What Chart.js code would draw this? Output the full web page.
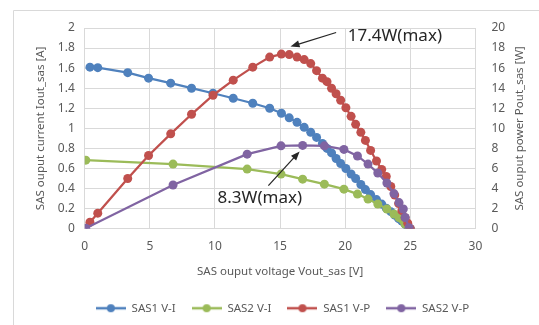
<!DOCTYPE html>
<html lang="en">
<head>
    <meta charset="UTF-8">
    <title>SAS output</title>
    <script src="https://cdn.jsdelivr.net/npm/chart.js"></script>
    <style>
        html, body {
            margin: 0;
            padding: 0;
            background: #fff;
            overflow: hidden;
        }
        .chart-box {
            width: 539px;
            height: 325px;
        }
    </style>
</head>
<body>
    <div class="chart-box">
        <canvas id="sasChart"></canvas>
    </div>

    <script>
        // SAS1 voltage [V], current [A], power [W]
        const sas1Volt = [0.4, 1.0, 3.3, 4.9, 6.6, 8.2, 9.85, 11.4, 12.9, 14.2, 15.1, 15.7, 16.3, 16.85, 17.35, 17.8,
            18.25, 18.6, 18.95, 19.3, 19.65, 20.05, 20.45, 20.8, 21.2, 21.55, 21.95, 22.4, 22.8, 23.15, 23.5,
            23.8, 24.1, 24.35, 24.6, 24.8, 25.0];
        const sas1Curr = [1.61, 1.605, 1.555, 1.50, 1.45, 1.40, 1.35, 1.30, 1.25, 1.20, 1.15, 1.105, 1.06, 1.01, 0.96, 0.91,
            0.85, 0.80, 0.755, 0.70, 0.65, 0.60, 0.545, 0.50, 0.44, 0.39, 0.34, 0.29, 0.245, 0.205, 0.17,
            0.135, 0.10, 0.075, 0.045, 0.02, 0];
        const sas1Pow = [0.64, 1.55, 5.0, 7.3, 9.45, 11.4, 13.3, 14.8, 16.1, 17.1, 17.4, 17.35, 17.1, 16.85, 16.45, 15.75,
            15.0, 14.65, 14.0, 13.45, 12.8, 12.05, 11.2, 10.4, 9.6, 8.8, 7.8, 6.75, 5.9, 5.2, 4.2,
            3.35, 2.5, 1.8, 1.1, 0.55, 0];

        // SAS2 voltage [V], current [A], power [W]
        const sas2Volt = [0.08, 6.78, 12.47, 15.07, 16.73, 18.4, 19.9, 20.94, 21.75, 22.5, 23.2, 23.74, 24.13, 24.46, 24.6, 24.9];
        const sas2Curr = [0.683, 0.644, 0.594, 0.544, 0.494, 0.444, 0.394, 0.345, 0.295, 0.245, 0.196, 0.146, 0.11, 0.08, 0.045, 0.005];
        const sas2Pow = [0.05, 4.35, 7.43, 8.26, 8.3, 8.26, 7.9, 7.25, 6.44, 5.55, 4.55, 3.5, 2.6, 1.96, 1.12, 0.1];

        const seriesNames = ['SAS1 V-I', 'SAS2 V-I', 'SAS1 V-P', 'SAS2 V-P'];
        const seriesColors = ['#4F81BD', '#9BBB59', '#C0504D', '#8064A2'];

        // annotation anchors in [V, W]
        const maxLabels = ['17.4W(max)', '8.3W(max)'];
        const labelPos = [[20.2, 19.2], [10.2, 3.0]];
        const arrowFrom = [[19.3, 19.55], [14.1, 4.3]];
        const arrowTo = [[15.8, 18.15], [16.5, 7.7]];

        const rightTitle = 'SAS ouput power Pout_sas [W]';
        const textGrey = '#595959';
        const gridGrey = '#d9d9d9';
        const fontFam = "'Noto Sans', sans-serif";

        function toPoints(xs, ys) {
            return xs.map((x, i) => ({ x: x, y: ys[i] }));
        }

        function legendIcon(color) {
            const c = document.createElement('canvas');
            c.width = 30;
            c.height = 10;
            const g = c.getContext('2d');
            g.strokeStyle = color;
            g.lineWidth = 2.5;
            g.beginPath();
            g.moveTo(0, 5);
            g.lineTo(30, 5);
            g.stroke();
            g.fillStyle = color;
            g.beginPath();
            g.arc(15, 5, 4, 0, Math.PI * 2);
            g.fill();
            return c;
        }

        function makeSet(i, pts, axis, order) {
            return {
                label: seriesNames[i],
                data: pts,
                yAxisID: axis,
                showLine: true,
                borderColor: seriesColors[i],
                backgroundColor: seriesColors[i],
                borderWidth: 2.25,
                pointRadius: 4.5,
                pointBorderWidth: 0,
                tension: 0,
                order: order
            };
        }

        const frame = {
            id: 'frame',
            beforeDraw(chart) {
                const ctx = chart.ctx;
                ctx.save();
                ctx.strokeStyle = gridGrey;
                ctx.lineWidth = 1;
                ctx.beginPath();
                ctx.moveTo(13.5, 325);
                ctx.lineTo(13.5, 10.5);
                ctx.lineTo(539, 10.5);
                ctx.stroke();
                ctx.restore();
            }
        };

        const maxNotes = {
            id: 'maxNotes',
            afterDatasetsDraw(chart) {
                const ctx = chart.ctx;
                const sx = chart.scales.x;
                const sy = chart.scales.y1;
                const area = chart.chartArea;
                ctx.save();
                // right axis title, read bottom to top
                ctx.fillStyle = textGrey;
                ctx.font = '11.5px ' + fontFam;
                ctx.textAlign = 'center';
                ctx.textBaseline = 'middle';
                ctx.translate(520, (area.top + area.bottom) / 2);
                ctx.rotate(-Math.PI / 2);
                ctx.fillText(rightTitle, 0, 0);
                ctx.restore();

                ctx.save();
                ctx.fillStyle = '#262626';
                ctx.strokeStyle = '#262626';
                ctx.font = '17px ' + fontFam;
                ctx.textBaseline = 'middle';
                maxLabels.forEach((txt, i) => {
                    ctx.fillText(txt, sx.getPixelForValue(labelPos[i][0]), sy.getPixelForValue(labelPos[i][1]));
                    const x0 = sx.getPixelForValue(arrowFrom[i][0]);
                    const y0 = sy.getPixelForValue(arrowFrom[i][1]);
                    const x1 = sx.getPixelForValue(arrowTo[i][0]);
                    const y1 = sy.getPixelForValue(arrowTo[i][1]);
                    const a = Math.atan2(y1 - y0, x1 - x0);
                    ctx.lineWidth = 1.25;
                    ctx.beginPath();
                    ctx.moveTo(x0, y0);
                    ctx.lineTo(x1 - 6 * Math.cos(a), y1 - 6 * Math.sin(a));
                    ctx.stroke();
                    ctx.beginPath();
                    ctx.moveTo(x1, y1);
                    ctx.lineTo(x1 - 9 * Math.cos(a) + 3.5 * Math.sin(a), y1 - 9 * Math.sin(a) - 3.5 * Math.cos(a));
                    ctx.lineTo(x1 - 9 * Math.cos(a) - 3.5 * Math.sin(a), y1 - 9 * Math.sin(a) + 3.5 * Math.cos(a));
                    ctx.closePath();
                    ctx.fill();
                });
                ctx.restore();
            }
        };

        const ctx = document.getElementById('sasChart').getContext('2d');
        const sasChart = new Chart(ctx, {
            type: 'scatter',
            data: {
                datasets: [
                    makeSet(0, toPoints(sas1Volt, sas1Curr), 'y', 3),
                    makeSet(1, toPoints(sas2Volt, sas2Curr), 'y', 2),
                    makeSet(2, toPoints(sas1Volt, sas1Pow), 'y1', 1),
                    makeSet(3, toPoints(sas2Volt, sas2Pow), 'y1', 0)
                ]
            },
            options: {
                responsive: true,
                maintainAspectRatio: false,
                animation: false,
                layout: {
                    padding: { left: 34, right: 8, top: 28, bottom: 1 }
                },
                scales: {
                    x: {
                        type: 'linear',
                        min: 0,
                        max: 30,
                        ticks: { stepSize: 5, color: textGrey, font: { family: fontFam, size: 12, lineHeight: 1 }, padding: 12 },
                        grid: { color: gridGrey, drawTicks: false },
                        border: { display: false },
                        title: {
                            display: true,
                            text: 'SAS ouput voltage Vout_sas [V]',
                            color: textGrey,
                            font: { family: fontFam, size: 11.5 },
                            padding: { top: 0, bottom: 8 }
                        }
                    },
                    y: {
                        position: 'left',
                        min: 0,
                        max: 2,
                        ticks: {
                            stepSize: 0.2,
                            color: textGrey,
                            font: { family: fontFam, size: 12 },
                            padding: 10,
                            callback: v => String(Math.round(v * 10) / 10)
                        },
                        grid: { color: gridGrey, drawTicks: false },
                        border: { display: false },
                        title: {
                            display: true,
                            text: 'SAS ouput current Iout_sas [A]',
                            color: textGrey,
                            font: { family: fontFam, size: 11.5 },
                            padding: { top: 0, bottom: 0 }
                        }
                    },
                    y1: {
                        position: 'right',
                        min: 0,
                        max: 20,
                        ticks: { stepSize: 2, color: textGrey, font: { family: fontFam, size: 12 }, padding: 8 },
                        grid: { display: false },
                        border: { display: false },
                        title: {
                            display: true,
                            text: rightTitle,
                            color: 'rgba(0,0,0,0)',
                            font: { family: fontFam, size: 11.5 },
                            padding: { top: 4, bottom: 0 }
                        }
                    }
                },
                plugins: {
                    tooltip: { enabled: false },
                    legend: {
                        position: 'bottom',
                        labels: {
                            usePointStyle: true,
                            pointStyleWidth: 30,
                            boxHeight: 10,
                            padding: 16,
                            color: textGrey,
                            font: { family: fontFam, size: 11.5 },
                            generateLabels: chart => chart.data.datasets.map((ds, i) => ({
                                text: ds.label,
                                pointStyle: legendIcon(seriesColors[i]),
                                fillStyle: seriesColors[i],
                                strokeStyle: seriesColors[i],
                                lineWidth: 0,
                                fontColor: textGrey,
                                datasetIndex: i,
                                hidden: false
                            }))
                        }
                    }
                }
            },
            plugins: [frame, maxNotes]
        });
    </script>
</body>
</html>
